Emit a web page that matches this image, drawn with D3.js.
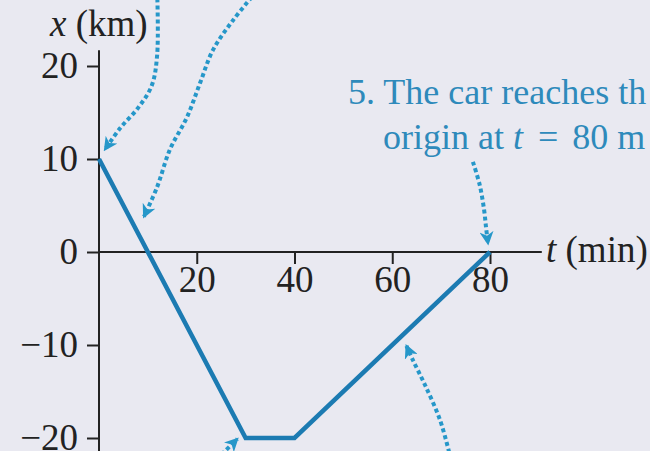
<!DOCTYPE html>
<html>
<head>
<meta charset="utf-8">
<script src="https://cdn.jsdelivr.net/npm/d3@7"></script>
<style>
  html, body { margin: 0; padding: 0; background: #e9e9f1; }
  svg { display: block; }
</style>
</head>
<body>
<script>
// Position of the car versus time
const times = [0, 30, 40, 80];          // t (min)
const positions = [10, -20, -20, 0];    // x (km)
const xTicks = [20, 40, 60, 80];
const yTicks = [-20, -10, 0, 10, 20];

// Dotted callout arrows, given in (t, x) data units; last point is the tip
const arrowTopLeft  = [[11.9, 28.0], [11.9, 21.2], [10.8, 17.9], [8.0, 15.5], [4.3, 13.3], [1.2, 11.0]];
const arrowTopRight = [[32.2, 28.0], [27.4, 24.9], [23.3, 21.7], [20.7, 18.2], [18.0, 14.5], [14.5, 11.0], [11.9, 7.0], [9.2, 3.8]];
const arrowBottomA  = [[24.0, -22.3], [26.0, -21.3], [28.3, -20.1]];
const arrowBottomB  = [[72.0, -22.3], [69.8, -18.1], [66.7, -14.3], [64.2, -11.6], [62.9, -10.1]];
const arrowOrigin   = [[76.5, 9.7], [77.9, 7.2], [78.8, 4.5], [79.2, 2.6], [79.6, 0.9]];
const arrows = [arrowTopLeft, arrowTopRight, arrowBottomA, arrowBottomB, arrowOrigin];

const W = 650, H = 451;
const lineColor = "#1c7bb2";
const arrowColor = "#2697c9";
const noteColor = "#2e8abb";
const inkColor = "#222222";
const serif = "'Liberation Serif', 'Times New Roman', serif";
const fontSize = 37;
const noteSize = 36;

const x = d3.scaleLinear().domain([0, 80]).range([99, 490]);
const y = d3.scaleLinear().domain([-20, 20]).range([438, 66]);

const svg = d3.select("body").append("svg")
  .attr("width", W).attr("height", H)
  .style("background", "#e9e9f1");

const defs = svg.append("defs");
defs.append("marker")
  .attr("id", "tip")
  .attr("viewBox", "0 0 14 14")
  .attr("refX", 12).attr("refY", 7)
  .attr("markerWidth", 14).attr("markerHeight", 14)
  .attr("markerUnits", "userSpaceOnUse")
  .attr("orient", "auto")
  .append("path")
  .attr("d", "M0,0 L14,7 L0,14 L4,7 Z")
  .attr("fill", arrowColor);

// Axis lines (extended past the tick range)
svg.append("line")
  .attr("x1", x(0)).attr("x2", x(90.6))
  .attr("y1", y(0)).attr("y2", y(0))
  .attr("stroke", inkColor).attr("stroke-width", 2);
svg.append("line")
  .attr("x1", x(0)).attr("x2", x(0))
  .attr("y1", y(21.7)).attr("y2", y(-22.5))
  .attr("stroke", inkColor).attr("stroke-width", 2);

const fmt = d => d3.format("d")(d).replace("-", "\u2212");

const yAxis = svg.append("g")
  .attr("transform", `translate(${x(0)},0)`)
  .call(d3.axisLeft(y).tickValues(yTicks).tickFormat(fmt).tickSize(12).tickPadding(9).tickSizeOuter(0));
const xAxis = svg.append("g")
  .attr("transform", `translate(0,${y(0)})`)
  .call(d3.axisBottom(x).tickValues(xTicks).tickFormat(fmt).tickSize(12).tickPadding(2).tickSizeOuter(0));

[yAxis, xAxis].forEach(g => {
  g.select(".domain").remove();
  g.selectAll(".tick line").attr("stroke", inkColor).attr("stroke-width", 2);
  g.selectAll(".tick text")
    .attr("fill", inkColor)
    .style("font-family", serif)
    .style("font-size", fontSize + "px");
});

// Axis titles
const yTitle = svg.append("text")
  .attr("x", 50).attr("y", 36)
  .attr("fill", inkColor)
  .style("font-family", serif).style("font-size", fontSize + "px");
yTitle.append("tspan").style("font-style", "italic").text("x");
yTitle.append("tspan").text(" (km)");

const xTitle = svg.append("text")
  .attr("x", 546).attr("y", 262)
  .attr("fill", inkColor)
  .style("font-family", serif).style("font-size", fontSize + "px");
xTitle.append("tspan").style("font-style", "italic").text("t");
xTitle.append("tspan").text(" (min)");

// Position-time graph
const line = d3.line().x((d, i) => x(times[i])).y(d => y(d));
svg.append("path")
  .datum(positions)
  .attr("d", line)
  .attr("fill", "none")
  .attr("stroke", lineColor)
  .attr("stroke-width", 4.5)
  .attr("stroke-linejoin", "miter");

// Callout arrows
const curve = d3.line().x(d => x(d[0])).y(d => y(d[1])).curve(d3.curveCatmullRom.alpha(0.5));
svg.selectAll("path.callout")
  .data(arrows)
  .join("path")
  .attr("class", "callout")
  .attr("d", curve)
  .attr("fill", "none")
  .attr("stroke", arrowColor)
  .attr("stroke-width", 4)
  .attr("stroke-dasharray", "4,3")
  .attr("marker-end", "url(#tip)");

// Note for step 5 (runs off the right edge of the figure)
const note = svg.append("text")
  .attr("fill", noteColor)
  .style("font-family", serif).style("font-size", noteSize + "px");
note.append("tspan").attr("x", 348).attr("y", 104).text("5. The car reaches th");
note.append("tspan").attr("x", 383).attr("y", 149).text("origin at ");
note.append("tspan").style("font-style", "italic").text("t");
note.append("tspan").attr("dx", 6).text(" = ");
note.append("tspan").attr("dx", 5).text("80 m");
</script>
</body>
</html>
